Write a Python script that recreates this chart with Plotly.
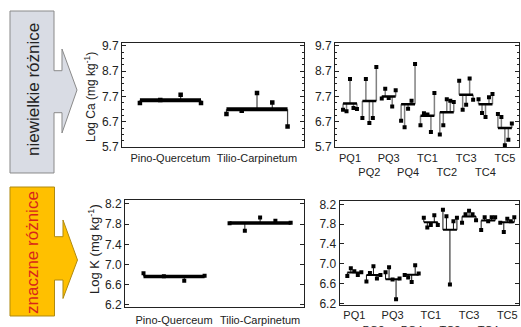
import plotly.graph_objects as go

W, H = 521, 327

# ---------------- data ----------------
forest_cats_ca = ["Pino-Quercetum", "Tilio-Carpinetum"]
forest_ca = [[7.44, 7.56, 7.76, 7.44],
             [7.00, 7.13, 7.83, 7.46, 6.51]]

site_cats = ["PQ1", "PQ2", "PQ3", "PQ4", "TC1", "TC2", "TC3", "TC4", "TC5"]
site_ca = [[7.17, 7.11, 8.38, 7.24, 7.20],
           [6.84, 8.38, 6.65, 6.84, 8.86],
           [7.61, 8.00, 7.63, 7.30, 7.94],
           [6.74, 6.48, 7.21, 7.53, 8.98],
           [6.56, 7.03, 6.98, 6.29, 7.83],
           [6.19, 6.56, 7.59, 7.53, 7.48],
           [8.32, 7.17, 7.37, 8.40, 7.57],
           [7.59, 7.04, 6.88, 7.66, 7.79],
           [7.00, 6.88, 5.77, 5.99, 6.63]]

forest_cats_k = ["Pino-Querceum", "Tilio-Carpinetum"]
forest_k = [[6.83, 6.77, 6.68, 6.78],
            [7.82, 7.67, 7.93, 7.87, 7.83]]

site_k = [[6.75, 6.91, 6.85, 6.77, 6.83],
          [6.64, 6.81, 6.95, 6.70, 6.77],
          [6.83, 6.93, 6.68, 6.28, 6.70],
          [6.77, 6.72, 6.63, 6.97, 6.80],
          [7.93, 7.73, 7.78, 7.98, 7.78],
          [8.09, 7.96, 6.58, 7.86, 7.93],
          [7.83, 8.00, 8.07, 8.00, 7.88],
          [7.68, 7.94, 7.86, 7.94, 7.94],
          [7.83, 7.64, 7.91, 7.86, 7.94]]

ca_ticks = [5.7, 6.7, 7.7, 8.7, 9.7]
k_ticks = [6.2, 6.6, 7.0, 7.4, 7.8, 8.2]

label_top = "niewielkie różnice"
label_bottom = "znaczne różnice"
title_ca = "Log Ca (mg kg<sup>-1</sup>)"
title_k = "Log K (mg kg<sup>-1</sup>)"

FONT = "Liberation Sans, Arial, sans-serif"


def px(x):
    return x / W


def py(y):
    return 1 - y / H


fig = go.Figure()


def add_groups(vals, xa, ya, spread, mean_w, stem_color, stem_w, msize):
    xs_mean, ys_mean, xs_stem, ys_stem, xs_pts, ys_pts = [], [], [], [], [], []
    for i, v in enumerate(vals):
        n = len(v)
        m = sum(v) / n
        xs = [i - spread + 2 * spread * j / (n - 1) for j in range(n)]
        xs_mean += [xs[0], xs[-1], None]
        ys_mean += [m, m, None]
        for x, y in zip(xs, v):
            xs_stem += [x, x, None]
            ys_stem += [m, y, None]
        xs_pts += xs
        ys_pts += v
    fig.add_trace(go.Scatter(x=xs_stem, y=ys_stem, mode="lines", xaxis=xa, yaxis=ya,
                             line=dict(color=stem_color, width=stem_w), hoverinfo="skip",
                             showlegend=False))
    fig.add_trace(go.Scatter(x=xs_mean, y=ys_mean, mode="lines", xaxis=xa, yaxis=ya,
                             line=dict(color="black", width=mean_w), hoverinfo="skip",
                             showlegend=False))
    fig.add_trace(go.Scatter(x=xs_pts, y=ys_pts, mode="markers", xaxis=xa, yaxis=ya,
                             marker=dict(symbol="square", size=msize, color="black"),
                             showlegend=False))


add_groups(forest_ca, "x", "y", 0.353, 4, "#444444", 1.2, 4.5)
add_groups(site_ca, "x2", "y2", 0.36, 2.5, "#808080", 1.5, 4)
add_groups(forest_k, "x3", "y3", 0.355, 3.5, "#222222", 1, 4)
add_groups(site_k, "x4", "y4", 0.366, 2, "#111111", 1, 4)

site_text = [c if i % 2 == 0 else "<br>" + c for i, c in enumerate(site_cats)]

axis_common = dict(showline=True, mirror=True, linecolor="#222222", linewidth=1,
                   showgrid=False, zeroline=False, fixedrange=True, automargin=False)


def xax(dom, rng, tickvals, ticktext, anchor, standoff=0):
    return dict(axis_common, domain=[px(dom[0]), px(dom[1])], range=rng,
                tickmode="array", tickvals=tickvals, ticktext=ticktext, ticks="",
                tickangle=0, anchor=anchor, ticklabelstandoff=standoff,
                tickfont=dict(family=FONT, size=11, color="#222222"))


def yax(dom, rng, tickvals, minor, anchor):
    d = dict(axis_common, domain=[py(dom[1]), py(dom[0])], range=rng,
             tickmode="array", tickvals=tickvals, ticktext=[f"{t:.1f}" for t in tickvals],
             ticks="inside", ticklen=4, tickcolor="#222222", mirror="ticks", anchor=anchor,
             tickfont=dict(family=FONT, size=12, color="#222222"))
    if minor:
        d["minor"] = dict(ticks="inside", ticklen=2, tickcolor="#222222",
                          tickmode="linear", tick0=5.7, dtick=0.25)
    return d


fig.update_layout(
    width=W, height=H, margin=dict(l=0, r=0, t=0, b=0, autoexpand=False),
    paper_bgcolor="white", plot_bgcolor="white", showlegend=False,
    xaxis=xax((122, 304), [-0.56, 1.543], [0, 1], forest_cats_ca, "y"),
    yaxis=yax((42.5, 147.3), [5.688, 9.826], ca_ticks, True, "x"),
    xaxis2=xax((335, 519), [-0.775, 8.73], list(range(9)), site_text, "y2"),
    yaxis2=yax((42.5, 147.3), [5.688, 9.826], ca_ticks, True, "x2"),
    xaxis3=xax((125, 304), [-0.57, 1.51], [0, 1], forest_cats_k, "y3", 3),
    yaxis3=yax((200, 306.5), [6.17, 8.279], k_ticks, False, "x3"),
    xaxis4=xax((339.5, 518.5), [-0.775, 8.586], list(range(9)), site_text, "y4"),
    yaxis4=yax((201, 305), [6.166, 8.267], k_ticks, False, "x4"),
)


def arrow_path(box, shaft, head):
    x0, y0, x1, y1 = box
    sy0, sy1, sx = shaft
    hx, hy0, tip_x, tip_y, hy1 = head
    pts = [(x0, y0), (x1, y0), (x1, sy0), (sx, sy0), (hx, hy0), (tip_x, tip_y),
           (hx, hy1), (hx, sy1), (x1, sy1), (x1, y1), (x0, y1)]
    return "M " + " L ".join(f"{px(a):.5f},{py(b):.5f}" for a, b in pts) + " Z"


fig.add_shape(type="path", xref="paper", yref="paper",
              path=arrow_path((10, 11, 54, 173), (70.7, 112.7, 62), (62, 49, 77, 90, 133)),
              fillcolor="#d9dce4", line=dict(color="#8a8a8a", width=1), layer="below")
fig.add_shape(type="path", xref="paper", yref="paper",
              path=arrow_path((10, 187, 54.5, 316), (236.7, 280, 63), (63, 220, 77.5, 260, 298.5)),
              fillcolor="#ffc000", line=dict(color="#b08a10", width=1), layer="below")


def vlabel(x, y, text, size, color):
    fig.add_annotation(x=px(x), y=py(y), xref="paper", yref="paper", text=text,
                       textangle=-90, showarrow=False, xanchor="center", yanchor="middle",
                       font=dict(family=FONT, size=size, color=color))


vlabel(33, 90, label_top, 17, "#222222")
vlabel(33, 253, label_bottom, 17, "#d8251a")
vlabel(90, 97, title_ca, 12, "#222222")
vlabel(94, 249, title_k, 13, "#222222")

fig.write_html("out.html")
